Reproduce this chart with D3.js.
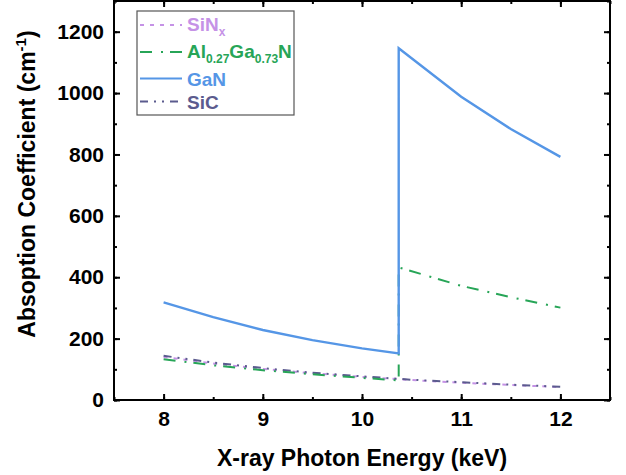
<!DOCTYPE html>
<html>
<head>
<meta charset="utf-8">
<script src="https://cdn.jsdelivr.net/npm/d3@7"></script>
<style>
  body { margin: 0; background: #fff; }
  text { font-family: "Liberation Sans", Arial, sans-serif; font-weight: bold; }
</style>
</head>
<body>
<svg class="svg-abs" width="626" height="475"></svg>
<script>
// energies (keV) and absorption coefficients (cm^-1)
const energy = [8, 8.5, 9, 9.5, 10, 10.5, 11, 11.5, 12]
const sinx = [140, 119, 101, 87, 75, 65, 56, 49, 42]
const sic = [144, 122, 104, 89, 77, 66, 58, 50, 43]
// Ga K-edge splits GaN and AlGaN
const edgeE = 10.37
const ganE = [8, 8.5, 9, 9.5, 10, edgeE, edgeE, 11, 11.5, 12]
const gan = [318, 270, 228, 195, 168, 152, 1146, 988, 883, 792]
const alganE = [8, 8.5, 9, 9.5, 10, edgeE, edgeE, 11, 11.5, 12]
const algan = [133, 113, 97, 84, 72, 64, 432, 372, 335, 301]

const xTicks = [8, 9, 10, 11, 12]
const yTicks = [0, 200, 400, 600, 800, 1000, 1200]

var margin = { top: 1, right: 16, bottom: 75, left: 114 }
var width = 626 - margin.left - margin.right
var height = 475 - margin.top - margin.bottom

var svg = d3.select('.svg-abs')
var g = svg.append('g')
    .attr('transform', 'translate(' + margin.left + ',' + margin.top + ')')

var x_scale = d3.scaleLinear().domain([7.5, 12.5]).range([0, width])
var y_scale = d3.scaleLinear().domain([0, 1300]).range([height, 0])

// lines
var series = [
    { name: 'SiN', xs: energy, ys: sinx, color: '#c592e6', dash: '4,6', w: 2 },
    { name: 'SiC', xs: energy, ys: sic, color: '#5b5b8e', dash: '8,6,2,6,2,6', w: 2 },
    { name: 'AlGaN', xs: alganE, ys: algan, color: '#27a557', dash: '12,9,2,7', w: 2 },
    { name: 'GaN', xs: ganE, ys: gan, color: '#5596e6', dash: null, w: 2.4 }
]
var line = d3.line()
    .x(d => x_scale(d[0]))
    .y(d => y_scale(d[1]))

series.forEach(s => {
    g.append('path')
        .attr('d', line(s.xs.map((e, i) => [e, s.ys[i]])))
        .attr('stroke', s.color)
        .attr('stroke-width', s.w)
        .attr('stroke-dasharray', s.dash)
        .attr('fill', 'none')
})

// axes, ticks inward
var xMinor = d3.range(7.5, 12.51, 0.5)
var yMinor = d3.range(0, 1301, 100)

g.append('g').attr('transform', 'translate(0,' + height + ')')
    .call(d3.axisBottom(x_scale).tickValues(xTicks).tickSize(-6).tickPadding(11).tickFormat(d3.format('d')))
g.append('g')
    .call(d3.axisLeft(y_scale).tickValues(yTicks).tickSize(-6).tickPadding(10).tickFormat(d3.format('d')))
g.append('g').attr('transform', 'translate(0,' + height + ')')
    .call(d3.axisBottom(x_scale).tickValues(xMinor).tickSize(-3).tickFormat(''))
g.append('g')
    .call(d3.axisLeft(y_scale).tickValues(yMinor).tickSize(-3).tickFormat(''))
g.append('g')
    .call(d3.axisTop(x_scale).tickValues(xTicks).tickSize(-6).tickFormat(''))
g.append('g')
    .call(d3.axisTop(x_scale).tickValues(xMinor).tickSize(-3).tickFormat(''))
g.append('g').attr('transform', 'translate(' + width + ',0)')
    .call(d3.axisRight(y_scale).tickValues(yTicks).tickSize(-6).tickFormat(''))
g.append('g').attr('transform', 'translate(' + width + ',0)')
    .call(d3.axisRight(y_scale).tickValues(yMinor).tickSize(-3).tickFormat(''))

g.selectAll('.domain').remove()
g.selectAll('.tick line').attr('stroke', '#000').attr('stroke-width', 2)
g.selectAll('.tick text').attr('font-size', 21).attr('fill', '#000')
    .style('font-family', '"Liberation Sans", Arial, sans-serif').style('font-weight', 'bold')

g.append('rect')
    .attr('width', width).attr('height', height)
    .attr('fill', 'none').attr('stroke', '#000').attr('stroke-width', 2)

// axis titles
svg.append('text')
    .attr('x', margin.left + width / 2)
    .attr('y', 466)
    .attr('text-anchor', 'middle')
    .attr('font-size', 23)
    .text('X-ray Photon Energy (keV)')

var yt = svg.append('text')
    .attr('transform', 'translate(35,184) rotate(-90)')
    .attr('text-anchor', 'middle')
    .attr('font-size', 23)
yt.append('tspan').text('Absoption Coefficient (cm')
yt.append('tspan').attr('font-size', 15).attr('dy', -9).text('-1')
yt.append('tspan').attr('dy', 9).text(')')

// legend
var lg = svg.append('g')
lg.append('rect')
    .attr('x', 137).attr('y', 11).attr('width', 157).attr('height', 104)
    .attr('fill', '#fff').attr('stroke', '#555').attr('stroke-width', 1.2)

var legendItems = [
    { s: series[0], y: 25, ty: 31, label: [['SiN', 0], ['x', 1]] },
    { s: series[2], y: 52, ty: 57.5, label: [['Al', 0], ['0.27', 1], ['Ga', 0], ['0.73', 1], ['N', 0]] },
    { s: series[3], y: 78.5, ty: 85.5, label: [['GaN', 0]] },
    { s: series[1], y: 101.5, ty: 109, label: [['SiC', 0]] }
]
legendItems.forEach(it => {
    lg.append('line')
        .attr('x1', 140).attr('x2', 182)
        .attr('y1', it.y).attr('y2', it.y)
        .attr('stroke', it.s.color).attr('stroke-width', 2)
        .attr('stroke-dasharray', it.s.dash)
    var t = lg.append('text')
        .attr('x', 187).attr('y', it.ty)
        .attr('font-size', 19)
        .attr('fill', it.s.color)
    var sub = 0
    it.label.forEach(p => {
        var dy = p[1] ? 5 : (sub ? -5 : 0)
        t.append('tspan').attr('dy', dy).attr('font-size', p[1] ? 12 : 19).text(p[0])
        sub = p[1]
    })
})
</script>
</body>
</html>
